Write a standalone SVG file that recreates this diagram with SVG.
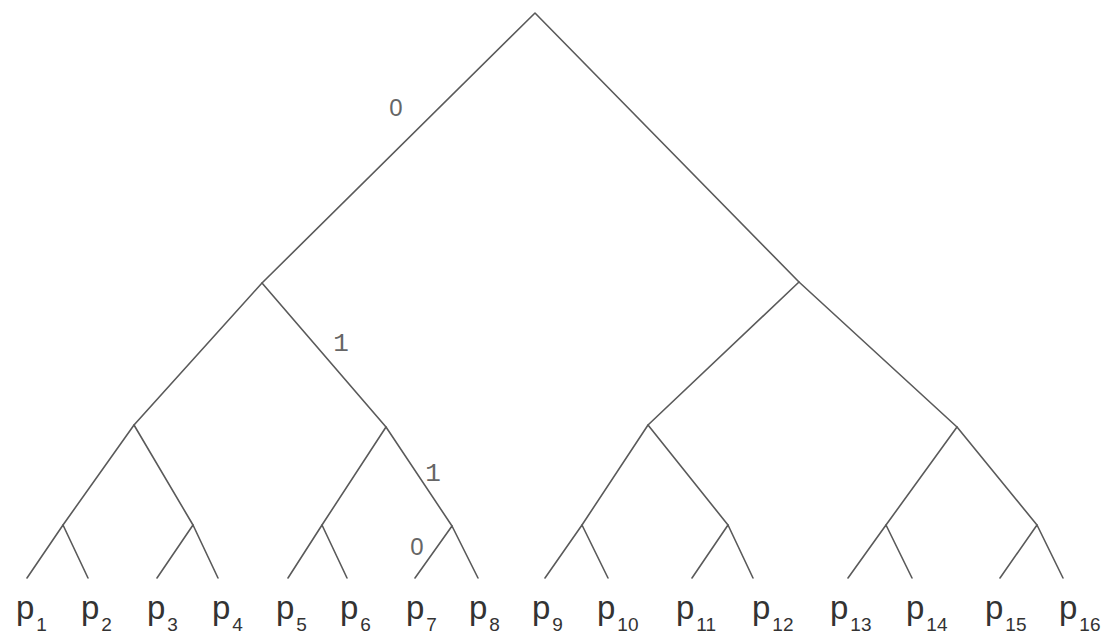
<svg xmlns="http://www.w3.org/2000/svg" width="1110" height="640" viewBox="0 0 1110 640">
<style>
.e{stroke:#5a5a5a;stroke-width:1.6;fill:none;stroke-linecap:round}
.p{font-family:"Liberation Sans",Arial,sans-serif;font-size:33px;fill:#333}
.s{font-size:19px}
.lb{font-family:"Liberation Mono","DejaVu Sans Mono",monospace;font-size:26px;fill:#666}
.lz{font-family:"Liberation Sans",Arial,sans-serif;font-size:24px;fill:#666}
</style>
<rect width="1110" height="640" fill="#fff"/>
<g id="connectors">
<path class="e" d="M535,13 L262,283 M535,13 L799,282"/>
<path class="e" d="M262,283 L134,425 M262,283 L386,427 M799,282 L648,425 M799,282 L957,427"/>
<path class="e" d="M134,425 L63,525 M134,425 L193,525 M386,427 L322,525 M386,427 L452,526 M648,425 L582,525 M648,425 L728,525 M957,427 L886,525 M957,427 L1037,525"/>
<path class="e" d="M63,525 L27,578 M63,525 L88,578 M193,525 L157,578 M193,525 L218,578 M322,525 L288,578 M322,525 L347,578 M452,526 L415,578 M452,526 L478,578 M582,525 L545,578 M582,525 L608,578 M728,525 L692,578 M728,525 L753,578 M886,525 L848,578 M886,525 L912,578 M1037,525 L1000,578 M1037,525 L1063,578"/>
<g id="edge-labels">
<text class="lz" x="396" y="116" text-anchor="middle">0</text>
<text class="lb" x="341" y="351" text-anchor="middle">1</text>
<text class="lb" x="433" y="481" text-anchor="middle">1</text>
<text class="lz" x="417" y="555" text-anchor="middle">0</text>
</g>
</g>
<g id="p1"><text class="p" x="16" y="619">p<tspan class="s" dx="2" dy="12">1</tspan></text></g>
<g id="p2"><text class="p" x="81" y="619">p<tspan class="s" dx="2" dy="12">2</tspan></text></g>
<g id="p3"><text class="p" x="147" y="619">p<tspan class="s" dx="2" dy="12">3</tspan></text></g>
<g id="p4"><text class="p" x="212" y="619">p<tspan class="s" dx="2" dy="12">4</tspan></text></g>
<g id="p5"><text class="p" x="276" y="619">p<tspan class="s" dx="2" dy="12">5</tspan></text></g>
<g id="p6"><text class="p" x="340" y="619">p<tspan class="s" dx="2" dy="12">6</tspan></text></g>
<g id="p7"><text class="p" x="406" y="619">p<tspan class="s" dx="2" dy="12">7</tspan></text></g>
<g id="p8"><text class="p" x="469" y="619">p<tspan class="s" dx="2" dy="12">8</tspan></text></g>
<g id="p9"><text class="p" x="532" y="619">p<tspan class="s" dx="2" dy="12">9</tspan></text></g>
<g id="p10"><text class="p" x="597" y="619">p<tspan class="s" dx="2" dy="12">10</tspan></text></g>
<g id="p11"><text class="p" x="676" y="619">p<tspan class="s" dx="2" dy="12">11</tspan></text></g>
<g id="p12"><text class="p" x="752" y="619">p<tspan class="s" dx="2" dy="12">12</tspan></text></g>
<g id="p13"><text class="p" x="830" y="619">p<tspan class="s" dx="2" dy="12">13</tspan></text></g>
<g id="p14"><text class="p" x="906" y="619">p<tspan class="s" dx="2" dy="12">14</tspan></text></g>
<g id="p15"><text class="p" x="985" y="619">p<tspan class="s" dx="2" dy="12">15</tspan></text></g>
<g id="p16"><text class="p" x="1059" y="619">p<tspan class="s" dx="2" dy="12">16</tspan></text></g>
</svg>
